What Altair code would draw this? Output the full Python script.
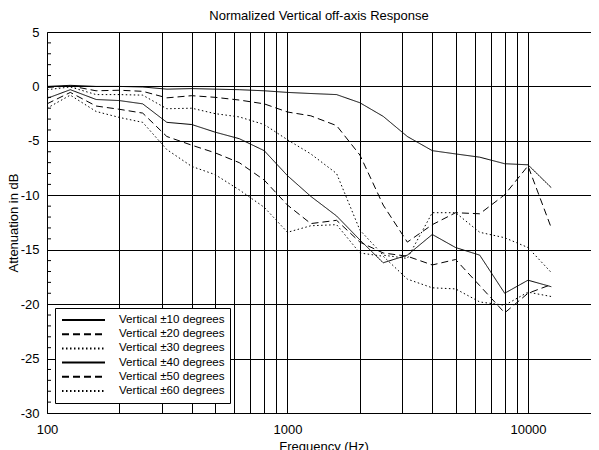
import altair as alt
import pandas as pd

freqs = [100, 125, 160, 200, 250, 315, 400, 500, 630, 800, 1000, 1250,
         1600, 2000, 2500, 3150, 4000, 5000, 6300, 8000, 10000, 12500]

series_names = ["Vertical ±10 degrees", "Vertical ±20 degrees", "Vertical ±30 degrees",
                "Vertical ±40 degrees", "Vertical ±50 degrees", "Vertical ±60 degrees"]

v10 = [0.0, 0.1, 0.0, 0.0, -0.05, -0.25, -0.2, -0.25, -0.3, -0.4, -0.55, -0.65,
       -0.75, -1.5, -2.75, -4.6, -5.9, -6.2, -6.5, -7.1, -7.2, -9.3]
v20 = [-0.1, 0.05, -0.4, -0.35, -0.45, -1.05, -0.85, -1.0, -1.25, -1.6, -2.35, -2.7,
       -3.6, -6.3, -10.9, -14.3, -12.7, -11.6, -11.7, -9.95, -7.3, -13.0]
v30 = [-0.3, -0.05, -0.75, -0.75, -0.8, -2.05, -2.0, -2.5, -2.8, -3.5, -4.9, -6.2,
       -8.0, -13.2, -15.5, -15.8, -11.6, -11.6, -13.4, -13.9, -14.8, -17.1]
v40 = [-1.1, -0.3, -1.2, -1.3, -1.6, -3.3, -3.5, -4.2, -4.8, -5.9, -8.2, -10.1,
       -11.9, -14.1, -16.2, -15.5, -13.6, -14.8, -15.5, -19.0, -17.8, -18.4]
v50 = [-1.6, -0.55, -1.8, -2.1, -2.45, -4.6, -5.4, -6.1, -7.0, -8.6, -10.9, -12.6,
       -12.3, -14.3, -15.3, -15.6, -16.4, -15.9, -18.3, -20.8, -19.0, -18.2]
v60 = [-2.0, -0.8, -2.3, -2.85, -3.3, -5.8, -7.35, -8.1, -9.5, -11.1, -13.4, -12.8,
       -12.7, -15.3, -15.6, -17.7, -18.5, -18.6, -19.8, -20.1, -18.9, -19.3]

x_grid = [100, 200, 300, 400, 500, 600, 700, 800, 900,
          1000, 2000, 3000, 4000, 5000, 6000, 7000, 8000, 9000, 10000]
x_labels = [100, 1000, 10000]
y_grid = [-30, -25, -20, -15, -10, -5, 0, 5]
y_minor = [-29, -28, -27, -26, -24, -23, -22, -21, -19, -18, -17, -16, -14, -13, -12, -11,
           -9, -8, -7, -6, -4, -3, -2, -1, 1, 2, 3, 4]

dash_range = [[1, 0], [7, 4], [1.5, 2.5], [1, 0], [7, 4], [1.5, 2.5]]

rows = []
for name, vals in zip(series_names, [v10, v20, v30, v40, v50, v60]):
    for f, v in zip(freqs, vals):
        rows.append({"series": name, "freq": f, "db": v})
df = pd.DataFrame(rows)
ticks_df = pd.DataFrame({"db": y_minor})

FONT = "Liberation Sans"

label_test = " || ".join(f"datum.value == {v}" for v in x_labels)

x_enc = alt.X(
    "freq:Q",
    scale=alt.Scale(type="log", domain=[100, 18280], nice=False),
    axis=alt.Axis(
        values=x_grid,
        labelExpr=f"({label_test}) ? '' + datum.value : ''",
        grid=True, gridColor="black", gridOpacity=1, gridWidth=1,
        ticks=False, tickSize=0, labelPadding=10, labelFlush=False, labelOverlap=False,
        title="Frequency (Hz)", titleX=276.5, titleY=37.5, titleBaseline="alphabetic",
    ),
)

y_enc = alt.Y(
    "db:Q",
    scale=alt.Scale(domain=[-30, 5], nice=False, zero=False),
    axis=alt.Axis(
        values=y_grid,
        labelExpr="'' + datum.value",
        grid=True, gridColor="black", gridOpacity=1, gridWidth=1,
        ticks=False, tickSize=0, labelPadding=8,
        title="Attenuation in dB", titleX=-29.5, titleY=190.5,
        titleBaseline="alphabetic", titleAlign="center", titleAngle=270,
    ),
)

lines = alt.Chart(df).mark_line(color="black", strokeWidth=1).encode(
    x=x_enc,
    y=y_enc,
    strokeDash=alt.StrokeDash(
        "series:N",
        scale=alt.Scale(domain=series_names, range=dash_range),
        legend=alt.Legend(
            title=None, orient="none", legendX=8, legendY=276, direction="vertical",
            strokeColor="black", fillColor="white", padding=5, cornerRadius=0,
            symbolType="stroke", symbolSize=1849, symbolStrokeWidth=2,
            symbolStrokeColor="black", symbolOffset=1,
            labelFont=FONT, labelFontSize=11.6, labelColor="black", labelOffset=13,
            labelLimit=300, clipHeight=14, rowPadding=0.2,
        ),
    ),
    order=alt.Order("freq:Q"),
)

minor = alt.Chart(ticks_df).mark_rule(color="black", strokeWidth=1).encode(
    y=alt.Y("db:Q"),
    x=alt.value(0),
    x2=alt.value(4),
)

chart = alt.layer(minor, lines).properties(
    width=544,
    height=381,
    autosize=alt.AutoSizeParams(type="none"),
    padding={"left": 39, "top": 24, "right": 0, "bottom": 40},
    title=alt.Title(
        "Normalized Vertical off-axis Response",
        font=FONT, fontSize=13, fontWeight="normal", color="black",
        anchor="middle", frame="group", offset=3,
    ),
).configure_view(
    stroke="transparent", strokeWidth=0,
).configure_axis(
    domainColor="black", domainWidth=1,
    labelFont=FONT, labelFontSize=13, labelColor="black",
    titleFont=FONT, titleFontSize=13, titleFontWeight="normal", titleColor="black",
)

chart.save("out.html", embed_options={"renderer": "svg", "actions": False})
